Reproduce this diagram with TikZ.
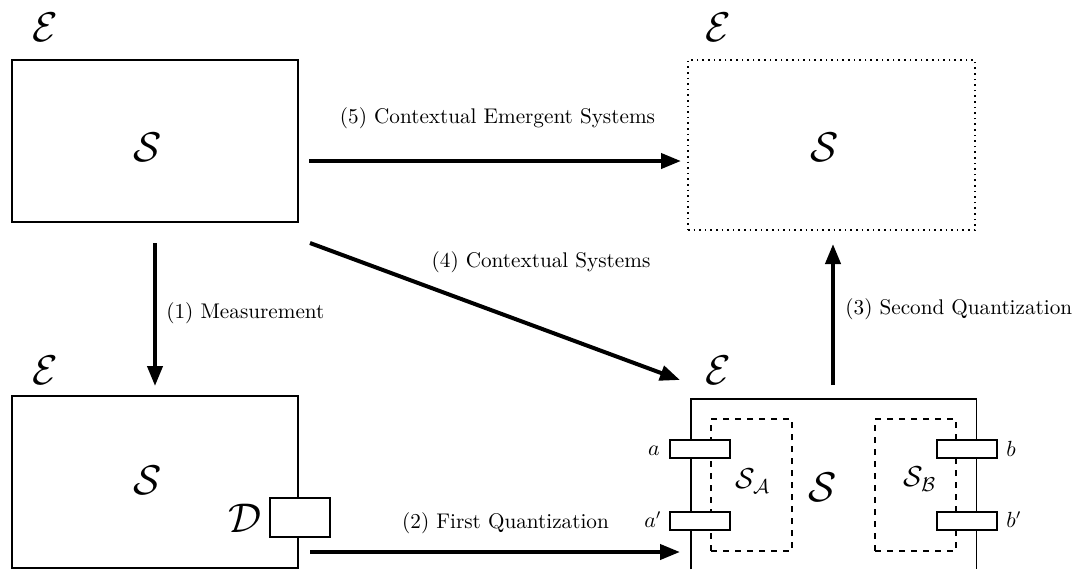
\documentclass[tikz,border=0pt]{standalone}
\usetikzlibrary{arrows.meta}
\begin{document}
\begin{tikzpicture}[x=0.5pt,y=-0.5pt,
  box/.style={draw,line width=0.9pt,minimum width=143pt},
  port/.style={draw,fill=white,line width=0.9pt,minimum width=30pt,minimum height=9pt,inner sep=0pt},
  sub/.style={draw,dashed,line width=0.8pt,minimum width=40.5pt,minimum height=66pt,inner sep=0pt},
  arr/.style={line width=2pt,-{Triangle[length=10pt,width=7.5pt]}},
  lbl/.style={font=\fontsize{10.6}{13}\selectfont,inner sep=0pt},
  big/.style={font=\huge,inner sep=0pt}]
\useasboundingbox (0,0) rectangle (1072,569);
% boxes
\node[box,minimum height=81pt] (A) at (155,141) {};
\node[big] (AS) at (148,147) {$\mathcal{S}$};
\node[big] (AE) at (45,27) {$\mathcal{E}$};
\node[draw,dotted,line width=0.8pt,minimum width=143.5pt,minimum height=85pt] (D) at (831.5,145) {};
\node[big] (DS) at (825,147) {$\mathcal{S}$};
\node[big] (DE) at (718,27) {$\mathcal{E}$};
\node[box,minimum height=86pt] (B) at (155,482) {};
\node[big] (BS) at (148,480) {$\mathcal{S}$};
\node[big] (BE) at (45,370) {$\mathcal{E}$};
\node[port,minimum height=19.5pt] (Dp) at (300,517.5) {};
\node[big] (DL) at (245,518) {$\mathcal{D}$};
% bottom-right open box
\node[minimum width=142.5pt,minimum height=85pt,inner sep=0pt] (C) at (833.5,484) {};
\draw[line width=0.9pt] (C.south west) |- (C.north east) -- (C.south east);
\node[big] (CE) at (718,370) {$\mathcal{E}$};
\node[sub] (SA) at (751.5,485) {};
\node[sub] (SB) at (915.5,485) {};
\node[font=\Large] (SAl) at (753,481) {$\mathcal{S}_{\mathcal{A}}$};
\node[font=\Large] (SBl) at (920,479) {$\mathcal{S}_{\mathcal{B}}$};
\node[big] (CS) at (823,487) {$\mathcal{S}$};
\node[port] (pa) at (700,449) {};
\node[port] (pa2) at (700,521) {};
\node[port] (pb) at (967,449) {};
\node[port] (pb2) at (967,521) {};
\node[lbl,anchor=east] (la) at (660,451) {$a$};
\node[lbl,anchor=east] (la2) at (662,520) {$a'$};
\node[lbl,anchor=west] (lb) at (1006,449) {$b$};
\node[lbl,anchor=west] (lb2) at (1006,520) {$b'$};
% arrow endpoints
\coordinate (a1s) at (155,243);
\coordinate (a1e) at (155,386);
\coordinate (a2s) at (310,552);
\coordinate (a2e) at (680,552);
\coordinate (a3s) at (833,385);
\coordinate (a3e) at (833,244);
\coordinate (a4s) at (310,243);
\coordinate (a4e) at (680,380);
\coordinate (a5s) at (309,161);
\coordinate (a5e) at (681,161);
\draw[arr] (a1s) -- (a1e);
\draw[arr] (a2s) -- (a2e);
\draw[arr] (a3s) -- (a3e);
\draw[arr] (a4s) -- (a4e);
\draw[arr] (a5s) -- (a5e);
\node[lbl,anchor=west] (l1) at (166,313) {(1) Measurement};
\node[lbl] (l2) at (505.5,523) {(2) First Quantization};
\node[lbl,anchor=west] (l3) at (845,309) {(3) Second Quantization};
\node[lbl] (l4) at (541,262) {(4) Contextual Systems};
\node[lbl] (l5) at (497.5,118) {(5) Contextual Emergent Systems};
\end{tikzpicture}
\end{document}
